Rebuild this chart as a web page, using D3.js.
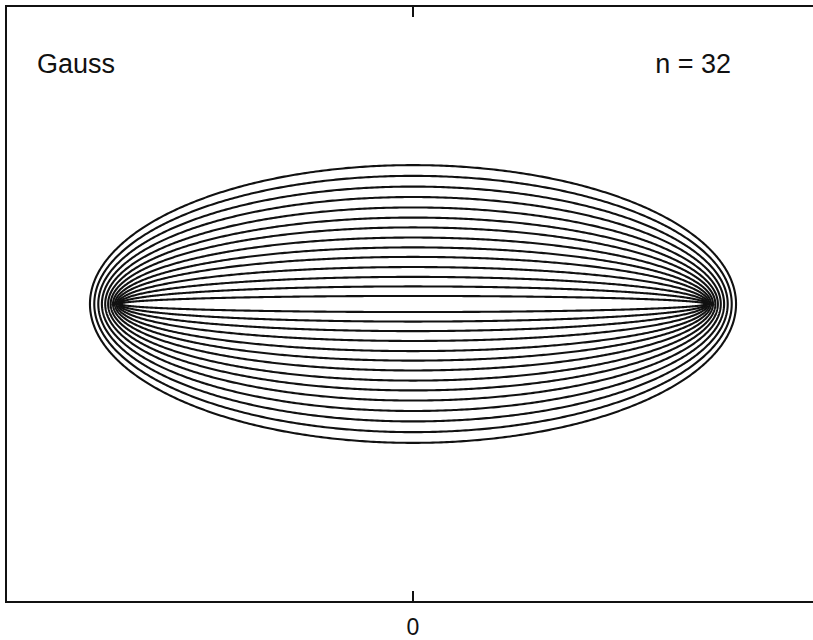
<!DOCTYPE html>
<html>
<head>
<meta charset="utf-8">
<script src="https://cdn.jsdelivr.net/npm/d3@7"></script>
<style>
  html, body { margin: 0; padding: 0; background: #fff; overflow: hidden; }
  text { font-family: "Liberation Sans", Arial, Helvetica, sans-serif; fill: #111; }
</style>
</head>
<body>
<div id="chart"></div>
<script>
// level curves, half-height at x = 0 (data units), innermost first
const halfHeights = [0.027, 0.059, 0.091, 0.124, 0.158, 0.190, 0.223,
                     0.257, 0.290, 0.324, 0.359, 0.394, 0.430, 0.466];
const xTicks = [0];
const xTickLabels = ["0"];
const title = "Gauss";
const nLabel = "n = 32";

const dim = { width: 813, height: 640 };
const svg = d3.select('#chart').append('svg')
  .attr('width', dim.width).attr('height', dim.height)
  .style('display', 'block');

const x = d3.scaleLinear().domain([-1.39, 1.39]).range([6, 820]);
const y = d3.scaleLinear().domain([-1, 1]).range([602, 6]);

// confocal ellipses with foci at -1 and 1
const angles = d3.range(0, 721).map(i => i * Math.PI / 360);
const line = d3.line()
  .x(d => x(d[0])).y(d => y(d[1]))
  .curve(d3.curveLinearClosed);

svg.append('g')
  .selectAll('path')
  .data(halfHeights)
  .enter()
  .append('path')
  .attr('d', b => {
    const a = Math.sqrt(1 + b * b);
    return line(angles.map(t => [a * Math.cos(t), b * Math.sin(t)]));
  })
  .attr('fill', 'none')
  .attr('stroke', '#111')
  .attr('stroke-width', 2.1);

// frame (right side falls outside the window)
svg.append('path')
  .attr('d', `M${dim.width + 5},${y(1)}H${x(-1.39)}V${y(-1)}H${dim.width + 5}`)
  .attr('fill', 'none').attr('stroke', '#111').attr('stroke-width', 2);

// ticks (inward, top and bottom)
const tk = svg.append('g');
xTicks.forEach(v => {
  tk.append('line').attr('x1', x(v)).attr('x2', x(v))
    .attr('y1', y(1)).attr('y2', y(1) + 11)
    .attr('stroke', '#111').attr('stroke-width', 2);
  tk.append('line').attr('x1', x(v)).attr('x2', x(v))
    .attr('y1', y(-1)).attr('y2', y(-1) - 11)
    .attr('stroke', '#111').attr('stroke-width', 2);
});
svg.append('g').selectAll('text')
  .data(xTicks)
  .enter().append('text')
  .attr('x', d => x(d)).attr('y', 635)
  .attr('text-anchor', 'middle')
  .style('font-size', '23px')
  .text((d, i) => xTickLabels[i]);

svg.append('text').attr('x', 37).attr('y', 73)
  .style('font-size', '27px').text(title);
svg.append('text').attr('x', 731).attr('y', 73)
  .attr('text-anchor', 'end')
  .style('font-size', '27px').text(nLabel);
</script>
</body>
</html>
